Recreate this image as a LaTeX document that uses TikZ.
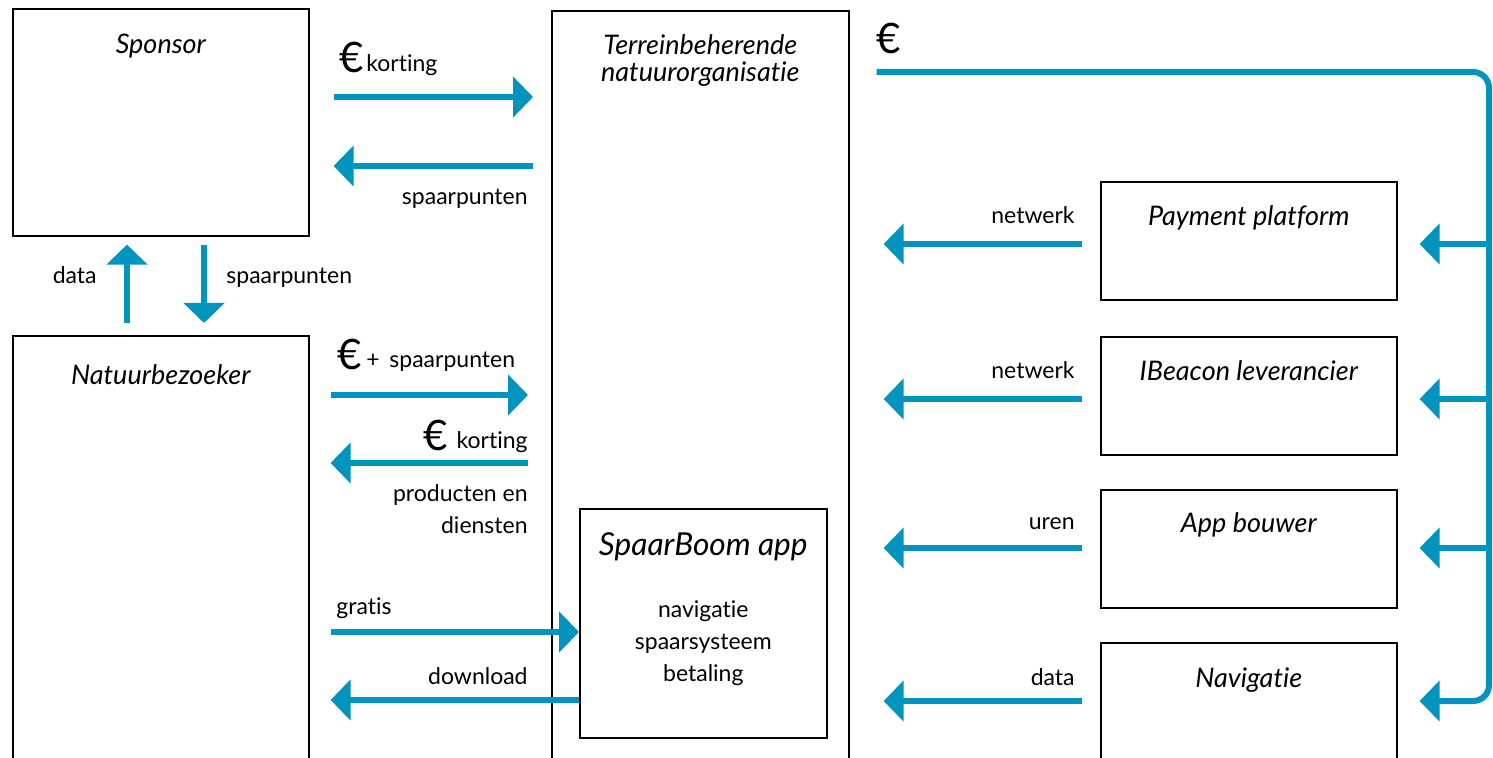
\documentclass[tikz,border=0pt]{standalone}
\usepackage{fontspec}
\setmainfont{Lato}[Ligatures=NoCommon]
\usetikzlibrary{arrows.meta,positioning}
\definecolor{flowblue}{RGB}{0,148,190}

\begin{document}
\begin{tikzpicture}[
  x=0.5pt, y=-0.5pt,
  box/.style={draw, line width=0.8pt, anchor=north west, inner sep=0pt},
  title/.style={font=\itshape\fontsize{13.5}{14}\selectfont, anchor=base, inner sep=0pt},
  lbl/.style={font=\fontsize{11.5}{13}\selectfont, inner sep=0pt},
  euro/.style={font=\fontsize{21}{24}\selectfont, inner sep=0pt, anchor=base west},
  flow/.style={draw=flowblue, line width=3pt, -{Triangle[length=10pt,width=20pt]}}
]
\useasboundingbox (0,0) rectangle (1493,758);

% boxes (open ones run off the page)
\node[box, minimum width=148pt, minimum height=113.5pt] (sponsor) at (12,8) {};
\node[box, minimum width=148pt, minimum height=222.5pt] (bezoeker) at (12,335) {};
\node[box, minimum width=148.5pt, minimum height=385pt] (terrein) at (551,10) {};
\node[box, minimum width=123.5pt, minimum height=114.5pt] (app) at (579,508) {};
\node[box, minimum width=148pt, minimum height=59pt] (payment) at (1100,181) {};
\node[box, minimum width=148pt, minimum height=59pt] (ibeacon) at (1100,336) {};
\node[box, minimum width=148pt, minimum height=59pt] (bouwer) at (1100,489) {};
\node[box, minimum width=148pt, minimum height=69pt] (navigatie) at (1100,642) {};

% titles
\node[title] (sponsor-t) at ([yshift=-23pt]sponsor.north) {Sponsor};
\node[title] (bezoeker-t) at ([yshift=-25pt]bezoeker.north) {Natuurbezoeker};
\node[title] (terrein-t) at ([yshift=-22.5pt]terrein.north) {Terreinbeherende};
\node[title] (terrein-t2) at ([yshift=-13.5pt]terrein-t.base) {natuurorganisatie};
\node[title, font=\itshape\fontsize{15.8}{18}\selectfont] (app-t) at ([yshift=-23.5pt]app.north) {SpaarBoom app};
\node[lbl, anchor=base] (app-l1) at ([yshift=-54.5pt]app.north) {navigatie};
\node[lbl, anchor=base] (app-l2) at ([yshift=-16pt]app-l1.base) {spaarsysteem};
\node[lbl, anchor=base] (app-l3) at ([yshift=-16pt]app-l2.base) {betaling};
\node[title] (payment-t) at ([yshift=-22.5pt]payment.north) {Payment platform};
\node[title] (ibeacon-t) at ([yshift=-22.5pt]ibeacon.north) {IBeacon leverancier};
\node[title] (bouwer-t) at ([yshift=-21.5pt]bouwer.north) {App bouwer};
\node[title] (navigatie-t) at ([yshift=-22.5pt]navigatie.north) {Navigatie};

% sponsor <-> terrein
\draw[flow, shorten <=12pt, shorten >=9pt] (sponsor.east |- 0,97) -- (terrein.west |- 0,97);
\node[euro] (eur1) at (339,73) {€};
\node[lbl, anchor=base west] (kort1) at (366,72) {korting};
\draw[flow, shorten <=9pt, shorten >=12pt] (terrein.west |- 0,166) -- (sponsor.east |- 0,166);
\node[lbl, anchor=base east] (spaar1) at (528,205) {spaarpunten};

% sponsor <-> bezoeker
\draw[flow, shorten <=6pt, shorten >=4pt] (bezoeker.north -| 127,0) -- (sponsor.south -| 127,0);
\node[lbl, anchor=base east] (data1) at (97,284) {data};
\draw[flow, shorten <=4pt, shorten >=6pt] (sponsor.south -| 204,0) -- (bezoeker.north -| 204,0);
\node[lbl, anchor=base west] (spaar2) at (226,284) {spaarpunten};

% bezoeker <-> terrein
\draw[flow, shorten <=10.5pt, shorten >=11.5pt] (bezoeker.east |- 0,395) -- (terrein.west |- 0,395);
\node[euro] (eur2) at (337,370) {€};
\node[lbl, anchor=base west] (spaar3) at (366,368) {+ \,spaarpunten};
\draw[flow, shorten <=11.5pt, shorten >=10.5pt] (terrein.west |- 0,463) -- (bezoeker.east |- 0,463);
\node[euro, anchor=base east] (eur3) at (448,451) {€};
\node[lbl, anchor=base east] (kort2) at (528,449) {korting};
\node[lbl, anchor=base east] (prod1) at (528,502) {producten en};
\node[lbl, anchor=base east] (prod2) at (528,533) {diensten};

% bezoeker <-> app
\draw[flow, shorten <=10.5pt] (bezoeker.east |- 0,632) -- (app.west |- 0,632);
\node[lbl, anchor=base west] (gratis) at (336,614) {gratis};
\draw[flow, shorten >=10.5pt] (app.west |- 0,700) -- (bezoeker.east |- 0,700);
\node[lbl, anchor=base east] (download) at (528,684) {download};

% suppliers -> terrein
\draw[flow, shorten <=9pt, shorten >=17pt] (payment.west |- 0,244) -- (terrein.east |- 0,244);
\node[lbl, anchor=base east] (netw1) at (1075,224) {netwerk};
\draw[flow, shorten <=9pt, shorten >=17pt] (ibeacon.west |- 0,399) -- (terrein.east |- 0,399);
\node[lbl, anchor=base east] (netw2) at (1075,379) {netwerk};
\draw[flow, shorten <=9pt, shorten >=17pt] (bouwer.west |- 0,548) -- (terrein.east |- 0,548);
\node[lbl, anchor=base east] (uren) at (1075,530) {uren};
\draw[flow, shorten <=9pt, shorten >=17pt] (navigatie.west |- 0,701) -- (terrein.east |- 0,701);
\node[lbl, anchor=base east] (data2) at (1075,685) {data};

% money rail terrein -> suppliers
\coordinate (rail) at (1489,0);
\node[euro] (eur4) at (876,54) {€};
\draw[flow, rounded corners=8pt, shorten <=13.5pt, shorten >=11pt]
  (terrein.east |- 0,72) -- (rail |- 0,72) -- (rail |- 0,701) -- (navigatie.east |- 0,701);
\draw[flow, shorten >=11pt] (rail |- 0,244) -- (payment.east |- 0,244);
\draw[flow, shorten >=11pt] (rail |- 0,399) -- (ibeacon.east |- 0,399);
\draw[flow, shorten >=11pt] (rail |- 0,548) -- (bouwer.east |- 0,548);

\end{tikzpicture}
\end{document}
